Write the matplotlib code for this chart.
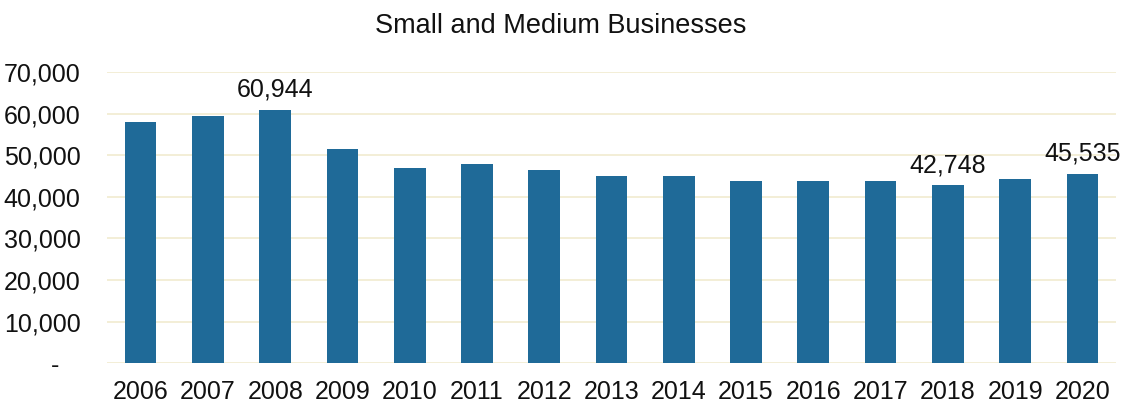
import matplotlib.pyplot as plt
from matplotlib.ticker import FuncFormatter

years = ['2006', '2007', '2008', '2009', '2010', '2011', '2012', '2013',
         '2014', '2015', '2016', '2017', '2018', '2019', '2020']
businesses = [57900, 59350, 60944, 51500, 46850, 47800, 46500, 45100,
              44900, 43900, 43700, 43900, 42748, 44200, 45535]
labelled = ['2008', '2018', '2020']

plt.rcParams['font.family'] = ['Liberation Sans', 'DejaVu Sans']

fig = plt.figure(figsize=(11.21, 4.03), dpi=100)
ax = fig.add_axes([0.0955, 0.099, 0.9, 0.722])

x = range(len(years))
bars = ax.bar(x, businesses, width=0.47, color='#1f6a98', zorder=3)

for rect, yr, val in zip(bars, years, businesses):
    if yr in labelled:
        ax.text(rect.get_x() + rect.get_width() / 2, val + 1900, f'{val:,}',
                ha='center', va='bottom', fontsize=18, color='#111111')

ax.set_xlim(-0.5, 14.5)
ax.set_ylim(0, 70000)
ax.set_yticks(range(0, 70001, 10000))
# accounting-style zero: a dash padded on the right
ax.yaxis.set_major_formatter(FuncFormatter(
    lambda v, p: '-\u00a0\u00a0\u00a0' if v == 0 else f'{int(v):,}'))
ax.set_xticks(list(x))
ax.set_xticklabels(years)
ax.tick_params(axis='both', length=0, labelsize=18, colors='#111111')
ax.tick_params(axis='y', pad=19)
ax.tick_params(axis='x', pad=12)

ax.grid(axis='y', color='#f1ebcf', linewidth=1.2, zorder=0)
for s in ax.spines.values():
    s.set_visible(False)

fig.text(0.5, 0.935, 'Small and Medium Businesses', ha='center', va='center',
         fontsize=19.5, color='#111111')

fig.savefig('out.png', dpi=100)
